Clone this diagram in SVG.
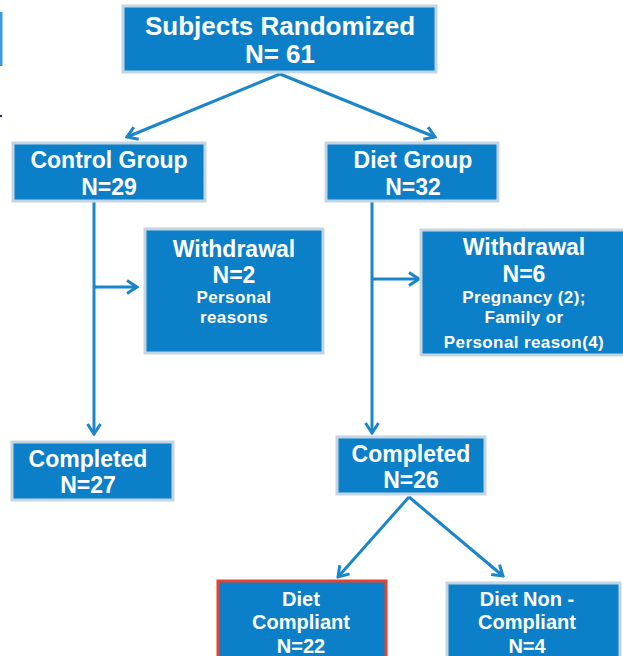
<svg xmlns="http://www.w3.org/2000/svg" width="623" height="656" viewBox="0 0 623 656">
<style>
.box{fill:#0b7fc7;stroke:#c3d5e3;stroke-width:3}
.red{fill:#0b7fc7;stroke:#e5432c;stroke-width:3}
text{font-family:"Liberation Sans",Arial,sans-serif;font-weight:bold;fill:#ffffff;text-anchor:middle}
.t24{font-size:26px}
.t22{font-size:23px}
.t20{font-size:20px}
.t17{font-size:17px;letter-spacing:0.4px}
.conn{stroke:#1a86c9;stroke-width:3;fill:none;marker-end:url(#arr)}
</style>
<defs>
<marker id="arr" markerUnits="userSpaceOnUse" viewBox="0 0 14 16" markerWidth="14" markerHeight="16" refX="12" refY="8" orient="auto">
<path d="M2,1.5 L12,8 L2,14.5" fill="none" stroke="#1a86c9" stroke-width="3"/>
</marker>
</defs>
<rect x="0" y="12" width="2.5" height="54" fill="#3b9bd8"/>
<circle cx="1" cy="116" r="1.2" fill="#1d2a6a"/>
<g id="connectors">
<line class="conn" x1="280" y1="74" x2="127" y2="137"/>
<line class="conn" x1="280" y1="74" x2="435" y2="137"/>
<line class="conn" x1="94" y1="202" x2="94" y2="434"/>
<line class="conn" x1="94" y1="287" x2="137" y2="287"/>
<line class="conn" x1="372" y1="202" x2="372" y2="433"/>
<line class="conn" x1="372" y1="279" x2="419" y2="279"/>
<line class="conn" x1="409" y1="497" x2="338" y2="577"/>
<line class="conn" x1="409" y1="497" x2="503" y2="576"/>
</g>
<g id="randomized">
<rect class="box" x="123" y="6" width="313" height="66"/>
<text class="t24" x="280" y="35">Subjects Randomized</text>
<text class="t24" x="280" y="63">N= 61</text>
</g>
<g id="control">
<rect class="box" x="13" y="143" width="192" height="58"/>
<text class="t22" x="109" y="168">Control Group</text>
<text class="t22" x="109" y="195">N=29</text>
</g>
<g id="diet">
<rect class="box" x="326" y="143" width="172" height="58"/>
<text class="t22" x="413" y="168">Diet Group</text>
<text class="t22" x="413" y="195">N=32</text>
</g>
<g id="withdrawal-control">
<rect class="box" x="145" y="229" width="178" height="124"/>
<text class="t22" x="234" y="257">Withdrawal</text>
<text class="t22" x="234" y="283">N=2</text>
<text class="t17" x="234" y="303">Personal</text>
<text class="t17" x="234" y="323">reasons</text>
</g>
<g id="withdrawal-diet">
<rect class="box" x="421" y="230" width="205" height="125"/>
<text class="t22" x="524" y="255">Withdrawal</text>
<text class="t22" x="524" y="282">N=6</text>
<text class="t17" x="524" y="303">Pregnancy (2);</text>
<text class="t17" x="524" y="323">Family or</text>
<text class="t17" x="524" y="348">Personal reason(4)</text>
</g>
<g id="completed-control">
<rect class="box" x="12" y="442" width="161" height="58"/>
<text class="t22" x="88" y="467">Completed</text>
<text class="t22" x="88" y="493">N=27</text>
</g>
<g id="completed-diet">
<rect class="box" x="337" y="437" width="148" height="57"/>
<text class="t22" x="411" y="462">Completed</text>
<text class="t22" x="411" y="488">N=26</text>
</g>
<g id="compliant">
<rect class="red" x="218" y="581" width="168" height="80"/>
<text class="t20" x="301" y="606">Diet</text>
<text class="t20" x="301" y="629">Compliant</text>
<text class="t20" x="301" y="653">N=22</text>
</g>
<g id="noncompliant">
<rect class="box" x="447" y="583" width="173" height="80"/>
<text class="t20" x="527" y="606">Diet Non -</text>
<text class="t20" x="527" y="629">Compliant</text>
<text class="t20" x="527" y="653">N=4</text>
</g>
</svg>
